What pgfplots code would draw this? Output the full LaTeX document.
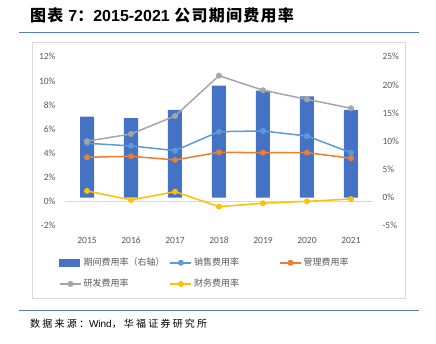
\documentclass[border=0pt]{standalone}
\usepackage{pgfplots}
\pgfplotsset{compat=1.18}
\usepackage{fontspec}
\setmainfont{Carlito}
\newfontfamily\cjk{Noto Sans CJK SC}
\newfontfamily\cjkt[LetterSpace=8]{Noto Sans CJK SC}
\newfontfamily\cjkls[LetterSpace=22]{Noto Sans CJK SC}
\newfontfamily\arial{Liberation Sans}
\definecolor{barblue}{HTML}{4472C4}
\definecolor{sales}{HTML}{5B9BD5}
\definecolor{admin}{HTML}{ED7D31}
\definecolor{rnd}{HTML}{A5A5A5}
\definecolor{fin}{HTML}{FFC000}
\definecolor{ticktxt}{HTML}{595959}
\definecolor{rulec}{HTML}{4F81BD}
\definecolor{framec}{HTML}{D9D9D9}
\begin{document}
\begin{tikzpicture}
\useasboundingbox (0pt,0pt) rectangle (436pt,-343pt);
\node[anchor=west, inner sep=0pt] at (30pt,-15.5pt) {\fontsize{16}{18}\selectfont\bfseries{\cjkt 图表 }{\arial 7}{\cjkt ：}{\arial 2015-2021 }{\cjkt 公司期间费用率}};
\draw[rulec, line width=1.2pt] (19pt,-32.3pt) -- (419pt,-32.3pt);
\draw[framec, line width=0.75pt] (32pt,-42.7pt) rectangle (405.7pt,-298pt);
\draw[rulec, line width=1.2pt] (19pt,-310.7pt) -- (419pt,-310.7pt);
\node[anchor=west, inner sep=0pt] at (30pt,-324pt) {\fontsize{10}{12}\selectfont{\cjkls 数据来源：}{\arial Wind}{\cjkls ，华福证券研究所}};
\pgfplotsset{common/.style={scale only axis, width=308pt, height=169pt, at={(65pt,-225.7pt)}, anchor=south west, xmin=-0.5, xmax=6.5, xtick={0,1,2,3,4,5,6}, axis line style={draw=none}, major tick length=0pt, tick label style={font=\fontsize{9.5}{11}\selectfont, text=ticktxt}, clip=false}}
\begin{axis}[common, ybar, bar width=14pt, axis y line*=right, axis x line*=bottom, ymin=-5, ymax=25, ytick={-5,0,5,10,15,20,25}, yticklabels={-5\%,0\%,5\%,10\%,15\%,20\%,25\%}, xticklabels={}, yticklabel style={xshift=6pt}]
\addplot[fill=barblue, draw=none] coordinates {(0,14.38) (1,14.09) (2,15.58) (3,19.88) (4,18.98) (5,17.97) (6,15.58)};
\end{axis}
\begin{axis}[common, axis y line*=left, axis x line*=bottom, ymin=-2, ymax=12,
  ytick={-2,0,2,4,6,8,10,12}, yticklabels={-2\%,0\%,2\%,4\%,6\%,8\%,10\%,12\%},
  xticklabels={2015,2016,2017,2018,2019,2020,2021},
  xticklabel style={yshift=-8pt}, yticklabel style={xshift=-6pt},
  extra y ticks={0}, extra y tick labels={}, extra y tick style={grid=major, major grid style={framec, line width=0.75pt}},
  every axis plot/.append style={line width=1.5pt, mark=*, mark size=2.2pt},
  legend image code/.code={\draw[mark repeat=2,mark phase=2] plot coordinates {(0pt,0pt) (10.5pt,0pt) (21pt,0pt)};},
  legend style={at={(-0.0195,-0.179)}, anchor=north west, draw=none, fill=none, inner sep=0pt,
    font=\cjk\fontsize{9}{11}\selectfont, text=ticktxt, row sep=8pt,
    /tikz/column 2/.style={column sep=3pt}, /tikz/column 4/.style={column sep=38pt}},
  legend columns=3, legend cell align=left]
\addlegendimage{legend image code/.code={\fill[barblue] (0pt,-3pt) rectangle (19.5pt,3pt);}}
\addlegendentry{期间费用率（右轴）}
\addplot[sales, mark options={fill=sales}] coordinates {(0,4.83) (1,4.61) (2,4.22) (3,5.79) (4,5.85) (5,5.43) (6,4.05)};
\addlegendentry{销售费用率}
\addplot[admin, mark options={fill=admin}] coordinates {(0,3.67) (1,3.75) (2,3.45) (3,4.08) (4,4.05) (5,4.05) (6,3.59)};
\addlegendentry{管理费用率}
\addplot[rnd, mark options={fill=rnd}] coordinates {(0,5.00) (1,5.60) (2,7.09) (3,10.43) (4,9.22) (5,8.47) (6,7.73)};
\addlegendentry{研发费用率}
\addplot[fin, mark options={fill=fin}] coordinates {(0,0.88) (1,0.13) (2,0.82) (3,-0.42) (4,-0.14) (5,0.02) (6,0.21)};
\addlegendentry{财务费用率}
\end{axis}
\end{tikzpicture}
\end{document}
